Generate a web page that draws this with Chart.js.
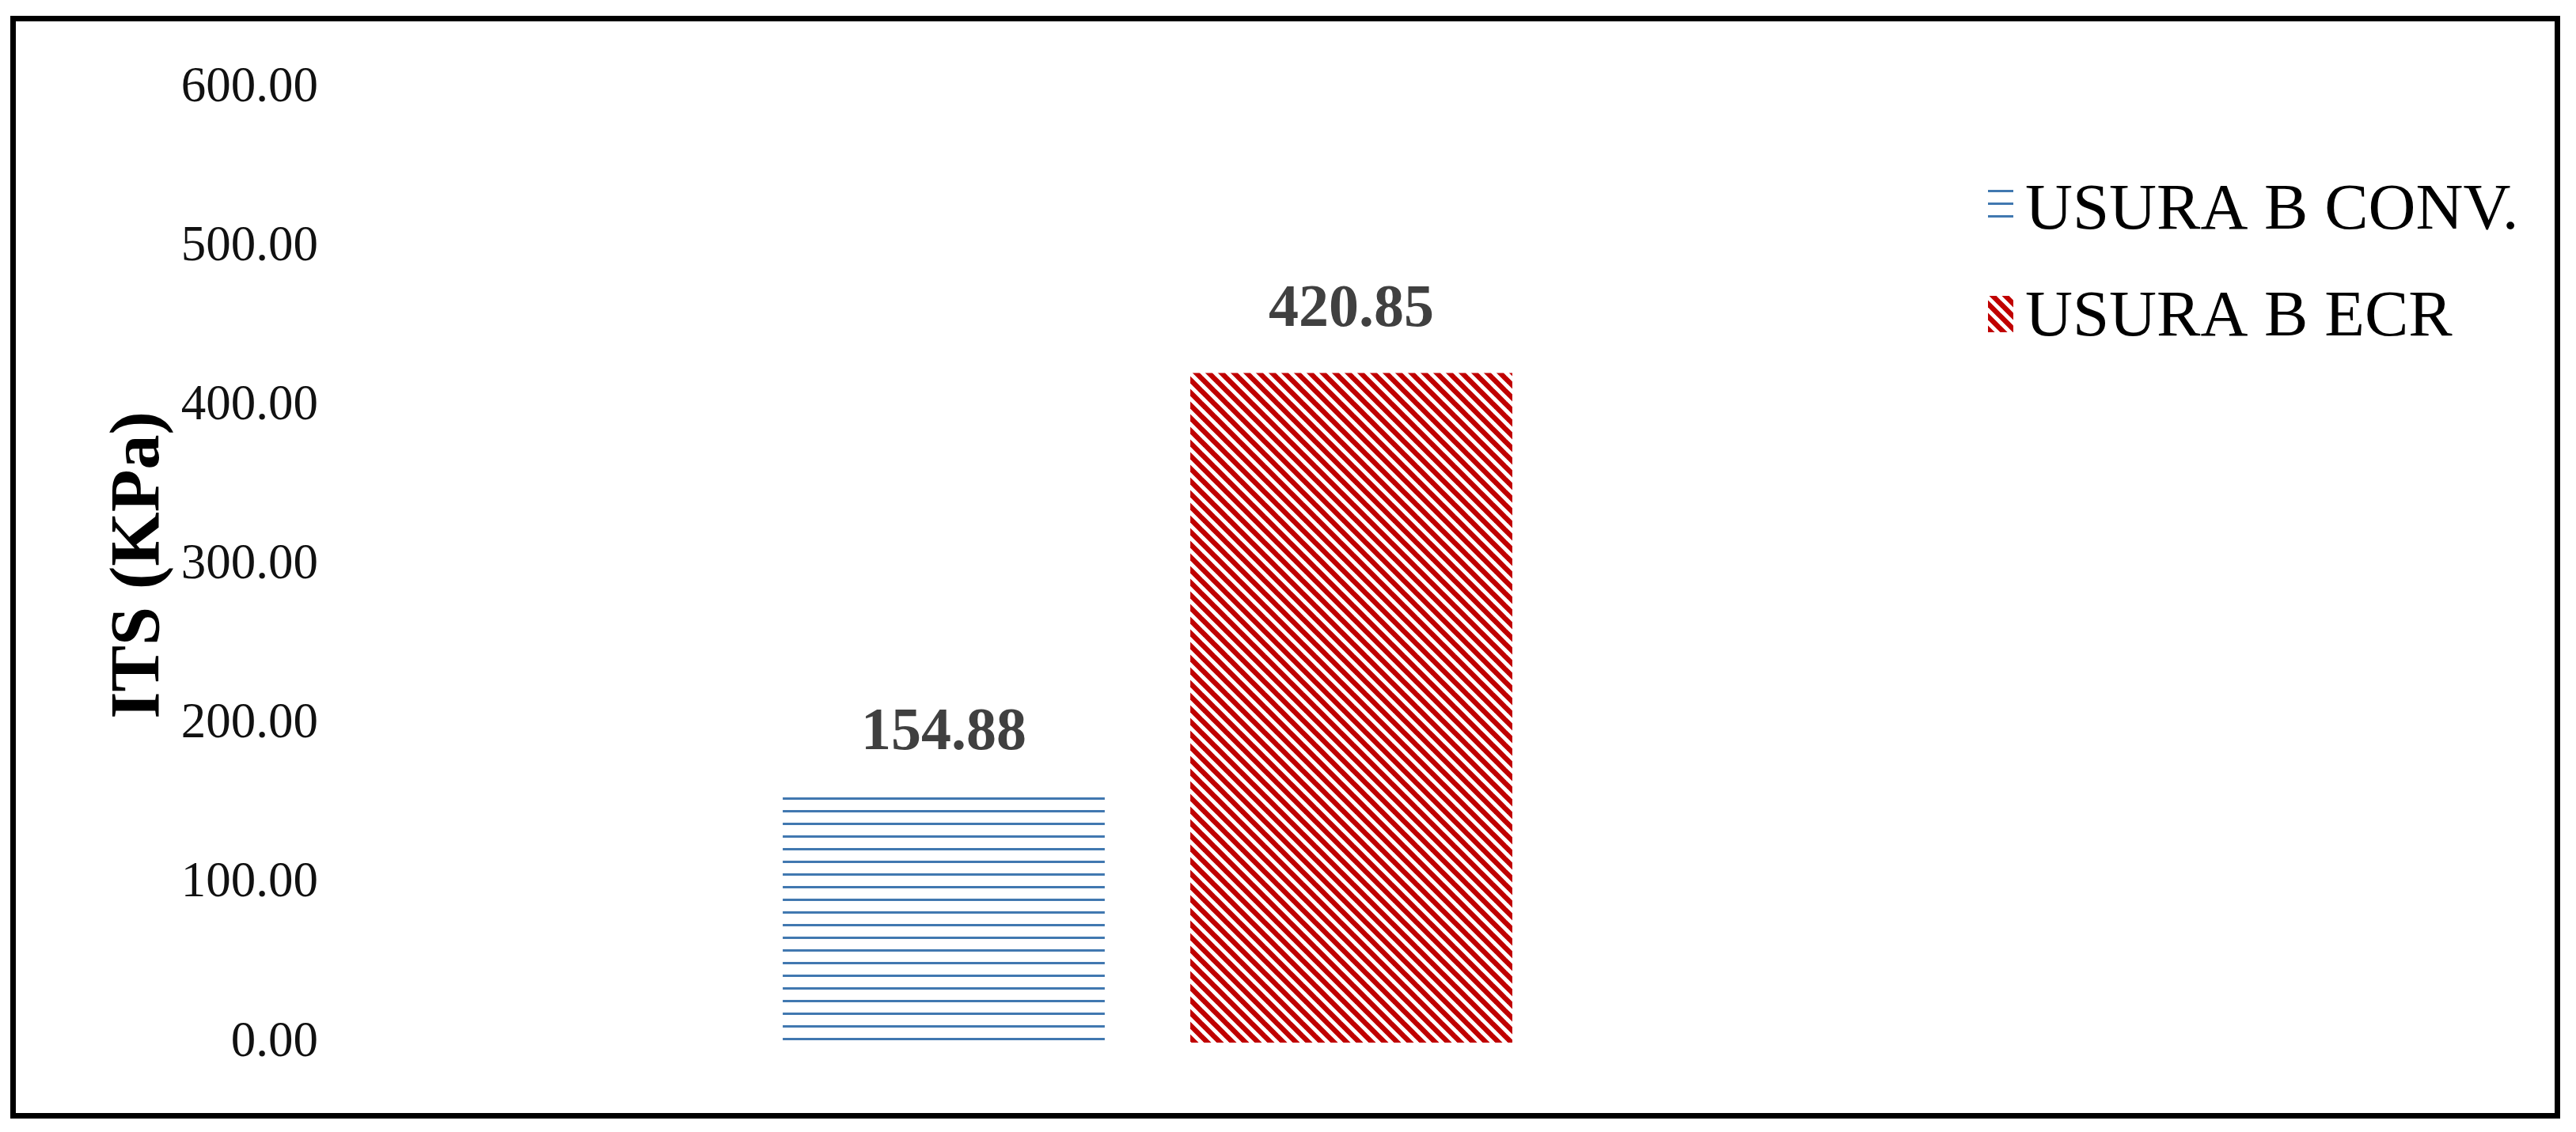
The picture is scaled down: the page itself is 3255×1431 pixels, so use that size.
<!DOCTYPE html>
<html><head><meta charset="utf-8">
<script src="https://cdn.jsdelivr.net/npm/chart.js@4/dist/chart.umd.min.js"></script>
<style>html,body{margin:0;padding:0;background:#fff;} canvas{display:block;}</style>
</head><body>
<canvas id="c" width="3255" height="1431"></canvas>
<script>
// ---- data ----
const categories = ['USURA B'];
const seriesLabels = ['USURA B CONV.', 'USURA B ECR'];
const conventionalValues = [154.88];
const ecrValues = [420.85];
const yTicks = [0, 100, 200, 300, 400, 500, 600];
const yAxisTitle = 'ITS (KPa)';

// ---- patterns ----
function hLinePattern(color) {
  const t = document.createElement('canvas');
  t.width = 16; t.height = 16;
  const c = t.getContext('2d');
  c.fillStyle = color;
  c.fillRect(0, 0, 16, 3);
  return t;
}
function diagPattern(color) {
  const t = document.createElement('canvas');
  t.width = 16; t.height = 16;
  const c = t.getContext('2d');
  c.strokeStyle = color;
  c.lineWidth = 6.5;
  c.lineCap = 'square';
  [-16, 0, 16].forEach(o => {
    c.beginPath(); c.moveTo(o, 0); c.lineTo(o + 16, 16); c.stroke();
  });
  return t;
}
const cv = document.getElementById('c');
const ctx0 = cv.getContext('2d');
const bluePat = ctx0.createPattern(hLinePattern('#4178B0'), 'repeat');
const redPat = ctx0.createPattern(diagPattern('#C00000'), 'repeat');

const serif = "'Liberation Serif', 'DejaVu Serif', serif";

const framePlugin = {
  id: 'frame',
  beforeDraw(chart) {
    const c = chart.ctx;
    c.save();
    c.fillStyle = '#fff';
    c.fillRect(0, 0, chart.width, chart.height);
    c.strokeStyle = '#000';
    c.lineWidth = 7;
    c.strokeRect(16.5, 23.5, 3215, 1387);
    c.restore();
  }
};

const valueLabelPlugin = {
  id: 'valueLabels',
  afterDatasetsDraw(chart) {
    const c = chart.ctx;
    c.save();
    c.fillStyle = '#404040';
    c.font = 'bold 76px ' + serif;
    c.textAlign = 'center';
    c.textBaseline = 'middle';
    chart.data.datasets.forEach((ds, i) => {
      chart.getDatasetMeta(i).data.forEach((bar, j) => {
        c.fillText(ds.data[j].toFixed(2), bar.x, bar.y - 79);
      });
    });
    c.restore();
  }
};

const legendPlugin = {
  id: 'customLegend',
  afterDraw(chart) {
    const c = chart.ctx;
    const a = chart.chartArea;
    c.save();
    c.font = '83px ' + serif;
    c.textAlign = 'left';
    c.textBaseline = 'middle';
    const rowsY = [a.top + 153, a.top + 288];
    chart.data.datasets.forEach((ds, i) => {
      const bx = a.right + 32, cy = rowsY[i];
      c.fillStyle = ds.backgroundColor;
      c.fillRect(bx, cy - 25, 32, 46);
      c.fillStyle = '#000';
      c.fillText(ds.label, bx + 47, cy + 3);
    });
    c.restore();
  }
};

new Chart(cv, {
  type: 'bar',
  data: {
    labels: categories,
    datasets: [
      { label: seriesLabels[0], data: conventionalValues, backgroundColor: bluePat, borderWidth: 0 },
      { label: seriesLabels[1], data: ecrValues, backgroundColor: redPat, borderWidth: 0 }
    ]
  },
  options: {
    responsive: false,
    animation: false,
    devicePixelRatio: 1,
    layout: { padding: { left: 20, right: 775, top: 111, bottom: 113 } },
    categoryPercentage: 0.5,
    barPercentage: 0.79,
    plugins: { legend: { display: false }, tooltip: { enabled: false } },
    scales: {
      x: { display: false, grid: { display: false } },
      y: {
        min: yTicks[0],
        max: yTicks[yTicks.length - 1],
        afterBuildTicks(scale) { scale.ticks = yTicks.map(v => ({ value: v })); },
        afterFit(scale) { scale.width = 400; },
        grid: { display: false, drawTicks: false },
        border: { display: false },
        ticks: {
          padding: 18,
          color: '#111',
          font: { family: serif, size: 63 },
          callback: v => Number(v).toFixed(2)
        },
        title: {
          display: true,
          text: yAxisTitle,
          color: '#000',
          font: { family: serif, size: 88, weight: 'bold' },
          padding: { top: 104, bottom: 0 }
        }
      }
    }
  },
  plugins: [framePlugin, valueLabelPlugin, legendPlugin]
});
</script>
</body></html>
